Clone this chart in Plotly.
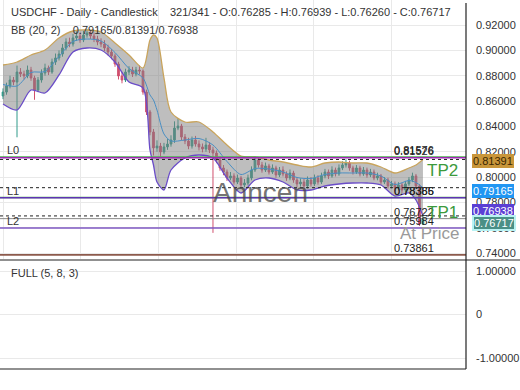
import plotly.graph_objects as go

# ---------------- data ----------------
open_ = [0.8640, 0.8671, 0.8719, 0.8766, 0.8750, 0.8829, 0.8813, 0.8798, 0.8845, 0.8782,
         0.8687, 0.8766, 0.8821, 0.8861, 0.8829, 0.8908, 0.8940, 0.8971, 0.9019, 0.9066,
         0.9050, 0.9098, 0.9113, 0.9082, 0.9121, 0.9137, 0.9113, 0.9090, 0.9066, 0.9050,
         0.9019, 0.8987, 0.8956, 0.8892, 0.8798, 0.8766, 0.8829, 0.8845, 0.8813, 0.8845,
         0.8837, 0.8671, 0.8514, 0.8356, 0.8230, 0.8245, 0.8198, 0.8238, 0.8261, 0.8293,
         0.8387, 0.8403, 0.8316, 0.8285, 0.8245, 0.8293, 0.8261, 0.8238, 0.8222, 0.8253,
         0.8214, 0.8190, 0.8135, 0.8072, 0.8040, 0.7993, 0.8009, 0.7961, 0.7993, 0.7938,
         0.7953, 0.7993, 0.8056, 0.8135, 0.8096, 0.8056, 0.8088, 0.8040, 0.8072, 0.8017,
         0.8056, 0.8025, 0.7993, 0.8032, 0.7977, 0.7946, 0.7961, 0.7930, 0.7977, 0.7946,
         0.7993, 0.7961, 0.8009, 0.8040, 0.8009, 0.8056, 0.8025, 0.8072, 0.8096, 0.8111,
         0.8072, 0.8040, 0.8072, 0.8025, 0.8056, 0.8017, 0.8040, 0.7993, 0.8009, 0.7961,
         0.7977, 0.7930, 0.7946, 0.7914, 0.7938, 0.7898, 0.7946, 0.7977, 0.8009, 0.7930,
         0.76285]
high = [0.8700, 0.8745, 0.8800, 0.8790, 0.8880, 0.8860, 0.8840, 0.8880, 0.8870, 0.8800,
        0.8790, 0.8850, 0.8895, 0.8880, 0.8935, 0.8975, 0.9000, 0.9050, 0.9095, 0.9100,
        0.9130, 0.9150, 0.9140, 0.9155, 0.9170, 0.9160, 0.9140, 0.9115, 0.9095, 0.9080,
        0.9045, 0.9010, 0.8975, 0.8910, 0.8830, 0.8855, 0.8875, 0.8870, 0.8870, 0.8880,
        0.8850, 0.8690, 0.8530, 0.8380, 0.8290, 0.8270, 0.8270, 0.8300, 0.8330, 0.8440,
        0.8466, 0.8420, 0.8340, 0.8310, 0.8320, 0.8325, 0.8290, 0.8265, 0.8310, 0.8275,
        0.8240, 0.8210, 0.8160, 0.8095, 0.8060, 0.8040, 0.8030, 0.8020, 0.8010, 0.7985,
        0.8020, 0.8085, 0.8165, 0.8150, 0.8120, 0.8115, 0.8105, 0.8100, 0.8090, 0.8080,
        0.8085, 0.8045, 0.8060, 0.8050, 0.8000, 0.7990, 0.7985, 0.8005, 0.8000, 0.8020,
        0.8015, 0.8035, 0.8065, 0.8060, 0.8085, 0.8075, 0.8100, 0.8125, 0.8140, 0.8130,
        0.8090, 0.8095, 0.8090, 0.8080, 0.8075, 0.8065, 0.8060, 0.8035, 0.8025, 0.8000,
        0.7995, 0.7970, 0.7965, 0.7960, 0.7955, 0.7970, 0.8000, 0.8035, 0.8025, 0.7945,
        0.76939]
low = [0.8615, 0.8650, 0.8700, 0.8725, 0.8314, 0.8790, 0.8770, 0.8780, 0.8760, 0.8610,
       0.8670, 0.8745, 0.8800, 0.8805, 0.8815, 0.8885, 0.8920, 0.8950, 0.9000, 0.9025,
       0.9030, 0.9075, 0.9060, 0.9065, 0.9100, 0.9090, 0.9065, 0.9040, 0.9025, 0.8995,
       0.8960, 0.8930, 0.8870, 0.8770, 0.8740, 0.8750, 0.8805, 0.8790, 0.8795, 0.8810,
       0.8650, 0.8490, 0.8330, 0.8170, 0.8200, 0.8160, 0.8180, 0.8215, 0.8240, 0.8270,
       0.8370, 0.8290, 0.8260, 0.8220, 0.8225, 0.8240, 0.8210, 0.8195, 0.8200, 0.8190,
       0.7560, 0.8110, 0.8050, 0.8015, 0.7970, 0.7975, 0.7940, 0.7945, 0.7915, 0.7920,
       0.7935, 0.7975, 0.8040, 0.8075, 0.8035, 0.8040, 0.8020, 0.8025, 0.7995, 0.8000,
       0.8005, 0.7970, 0.7975, 0.7955, 0.7920, 0.7925, 0.7905, 0.7910, 0.7925, 0.7930,
       0.7940, 0.7945, 0.7990, 0.7985, 0.7995, 0.8005, 0.8010, 0.8055, 0.8075, 0.8050,
       0.8020, 0.8025, 0.8005, 0.8010, 0.7995, 0.8000, 0.7975, 0.7975, 0.7940, 0.7945,
       0.7910, 0.7910, 0.7890, 0.7895, 0.7875, 0.7880, 0.7930, 0.7960, 0.7910, 0.7615,
       0.76260]
close = [0.8671, 0.8719, 0.8766, 0.8750, 0.8829, 0.8813, 0.8798, 0.8845, 0.8782, 0.8687,
         0.8766, 0.8821, 0.8861, 0.8829, 0.8908, 0.8940, 0.8971, 0.9019, 0.9066, 0.9050,
         0.9098, 0.9113, 0.9082, 0.9121, 0.9137, 0.9113, 0.9090, 0.9066, 0.9050, 0.9019,
         0.8987, 0.8956, 0.8892, 0.8798, 0.8766, 0.8829, 0.8845, 0.8813, 0.8845, 0.8837,
         0.8671, 0.8514, 0.8356, 0.8230, 0.8245, 0.8198, 0.8238, 0.8261, 0.8293, 0.8387,
         0.8403, 0.8316, 0.8285, 0.8245, 0.8293, 0.8261, 0.8238, 0.8222, 0.8253, 0.8214,
         0.8190, 0.8135, 0.8072, 0.8040, 0.7993, 0.8009, 0.7961, 0.7993, 0.7938, 0.7953,
         0.7993, 0.8056, 0.8135, 0.8096, 0.8056, 0.8088, 0.8040, 0.8072, 0.8017, 0.8056,
         0.8025, 0.7993, 0.8032, 0.7977, 0.7946, 0.7961, 0.7930, 0.7977, 0.7946, 0.7993,
         0.7961, 0.8009, 0.8040, 0.8009, 0.8056, 0.8025, 0.8072, 0.8096, 0.8111, 0.8072,
         0.8040, 0.8072, 0.8025, 0.8056, 0.8017, 0.8040, 0.7993, 0.8009, 0.7961, 0.7977,
         0.7930, 0.7946, 0.7914, 0.7938, 0.7898, 0.7946, 0.7977, 0.8009, 0.7930, 0.7630,
         0.76717]
bar_index = list(range(len(close)))

bb_index = [0, 4, 8, 12, 16, 20, 24, 28, 32, 36, 40, 42, 43, 44, 46, 48, 52, 56, 60, 64,
            68, 72, 76, 80, 84, 88, 92, 96, 100, 104, 108, 112, 116, 118, 120]
bb_upper = [0.88844, 0.89081, 0.89634, 0.90028, 0.90975, 0.91527, 0.91606, 0.91448, 0.90580, 0.89634,
            0.88608, 0.90817, 0.91212, 0.90975, 0.87819, 0.85136, 0.84347, 0.84347, 0.83558, 0.82532,
            0.81665, 0.81586, 0.81349, 0.81191, 0.80955, 0.80797, 0.81112, 0.81191, 0.81112, 0.81112,
            0.80797, 0.80323, 0.80718, 0.80955, 0.81391]
bb_lower = [0.85767, 0.85294, 0.86872, 0.86635, 0.88056, 0.89870, 0.90186, 0.90028, 0.89081, 0.87503,
            0.87030, 0.82138, 0.80955, 0.79613, 0.78983, 0.80560, 0.81507, 0.81744, 0.81507, 0.79929,
            0.78746, 0.79771, 0.79929, 0.79613, 0.78983, 0.78983, 0.79297, 0.79455, 0.79534, 0.79534,
            0.79376, 0.78508, 0.78746, 0.78193, 0.76938]
bb_mid = [0.87306, 0.87188, 0.88253, 0.88332, 0.89516, 0.90699, 0.90896, 0.90738, 0.89831, 0.88569,
          0.87819, 0.86478, 0.86084, 0.85294, 0.83401, 0.82848, 0.82927, 0.83046, 0.82533, 0.81231,
          0.80206, 0.80679, 0.80639, 0.80402, 0.79969, 0.79890, 0.80205, 0.80323, 0.80323, 0.80323,
          0.80087, 0.79416, 0.79732, 0.79574, 0.79165]

level_values = [0.81576, 0.81526, 0.78386, 0.78365, 0.76722, 0.75984, 0.73861]
level_labels = ["0.81576", "0.81526", "0.78386", "0.78365", "0.76722", "0.75984", "0.73861"]
level_colors = ["#4caf50", "#9c27b0", "#4caf50", "#5e35b1", "#8a8a8a", "#7e57c2", "#8d5a4c"]
bb_levels = [0.81391, 0.79165, 0.76938]

price_ticks = [0.74, 0.76, 0.78, 0.80, 0.82, 0.84, 0.86, 0.88, 0.90, 0.92]
osc_ticks = [-1, 0, 1]
osc_ticktext = ["-1.00000", "0", "1.00000"]

title_text = "USDCHF - Daily - Candlestick    321/341 - O:0.76285 - H:0.76939 - L:0.76260 - C:0.76717"
bb_text = "BB (20, 2)    0.79165/0.81391/0.76938"

# ---------------- figure ----------------
FONT = "Liberation Sans, Arial, sans-serif"
H_PLOT = 369.0

def py(pix):
    return 1 - pix / H_PLOT

fig = go.Figure()
fig.add_trace(go.Scatter(x=bb_index, y=bb_upper, mode="lines",
                         line=dict(color="#c9a45c", width=1.3, shape="spline", smoothing=0.8),
                         hoverinfo="skip"))
fig.add_trace(go.Scatter(x=bb_index, y=bb_lower, mode="lines", fill="tonexty",
                         fillcolor="rgba(125,125,125,0.5)",
                         line=dict(color="#6a4cc8", width=1.3, shape="spline", smoothing=0.8),
                         hoverinfo="skip"))
fig.add_trace(go.Scatter(x=bb_index, y=bb_mid, mode="lines",
                         line=dict(color="#4a8fc4", width=1, shape="spline", smoothing=0.8),
                         hoverinfo="skip"))
fig.add_trace(go.Candlestick(x=bar_index, open=open_, high=high, low=low, close=close,
                             increasing=dict(line=dict(color="#2f9a8a", width=1), fillcolor="#2f9a8a"),
                             decreasing=dict(line=dict(color="#d0506e", width=1), fillcolor="#d0506e"),
                             whiskerwidth=0))
# empty oscillator panel trace
fig.add_trace(go.Scatter(x=[0], y=[None], xaxis="x2", yaxis="y2", mode="lines"))

shapes = []
for v, c in zip(level_values, level_colors):
    shapes.append(dict(type="line", xref="paper", x0=0, x1=1, yref="y", y0=v, y1=v,
                       line=dict(color=c, width=1.6 if c != "#8a8a8a" else 1)))
for v in bb_levels:
    shapes.append(dict(type="line", xref="paper", x0=0, x1=1, yref="y", y0=v, y1=v,
                       line=dict(color="#222", width=1, dash="3px,3px")))
# panel borders
shapes += [
    dict(type="line", xref="paper", yref="paper", x0=1, x1=1, y0=py(260), y1=py(3),
         line=dict(color="#222", width=1.2)),
    dict(type="line", xref="paper", yref="paper", x0=0, x1=520 / 466, y0=py(260), y1=py(260),
         line=dict(color="#222", width=1.2)),
    dict(type="line", xref="paper", yref="paper", x0=1, x1=1, y0=0, y1=py(260),
         line=dict(color="#222", width=1.2)),
    dict(type="line", xref="paper", yref="paper", x0=0, x1=1, y0=0, y1=0,
         line=dict(color="#222", width=1.2)),
]

ann = []
ann.append(dict(text=title_text, xref="paper", yref="paper", x=9 / 466, y=py(12),
                xanchor="left", yanchor="middle", showarrow=False,
                font=dict(size=11, color="#333", family=FONT)))
ann.append(dict(text=bb_text, xref="paper", yref="paper", x=9 / 466, y=py(30),
                xanchor="left", yanchor="middle", showarrow=False,
                font=dict(size=11, color="#333", family=FONT)))
ann.append(dict(text="FULL (5, 8, 3)", xref="paper", yref="paper", x=9 / 466, y=py(273),
                xanchor="left", yanchor="middle", showarrow=False,
                font=dict(size=11, color="#333", family=FONT)))
for lab, v in zip(["L0", "L1", "L2"], [0.81576, 0.78386, 0.75984]):
    ann.append(dict(text=lab, xref="paper", yref="y", x=5 / 466, y=v, xanchor="left",
                    yanchor="bottom", showarrow=False, yshift=-1,
                    font=dict(size=11, color="#333", family=FONT)))
for lab, v in zip(level_labels, level_values):
    ann.append(dict(text=lab, xref="paper", yref="y", x=392 / 466, y=v, xanchor="left",
                    yanchor="bottom", showarrow=False, yshift=-1,
                    font=dict(size=11, color="#222", family=FONT)))
ann.append(dict(text="TP2", xref="paper", yref="paper", x=460 / 466, y=py(170), xanchor="right",
                yanchor="middle", showarrow=False, font=dict(size=17, color="#3c9a3c", family=FONT)))
ann.append(dict(text="TP1", xref="paper", yref="paper", x=460 / 466, y=py(212), xanchor="right",
                yanchor="middle", showarrow=False, font=dict(size=17, color="#3c9a3c", family=FONT)))
ann.append(dict(text="At Price", xref="paper", yref="paper", x=462 / 466, y=py(233), xanchor="right",
                yanchor="middle", showarrow=False, font=dict(size=17, color="#9a9a9a", family=FONT)))
ann.append(dict(text="Anncen", xref="paper", yref="paper", x=260 / 466, y=py(192), xanchor="center",
                yanchor="middle", showarrow=False,
                font=dict(size=28, color="rgba(70,70,70,0.75)", family=FONT)))

# right-axis price boxes
boxes = [(0.81391, "#c9963a", "#3a2600", -2, None),
         (0.79165, "#2196f3", "#ffffff", -3, None),
         (0.76938, "#5b3fd4", "#ffffff", 4.5, None),
         (0.76717, "#4a8f86", "#ffffff", -4, "#b8f2f2")]
for v, bg, fc, ys, bc in boxes:
    ann.append(dict(text=f"{v:.5f}", xref="paper", yref="y", x=1, y=v, xanchor="left",
                    yanchor="middle", xshift=6, yshift=ys, showarrow=False, bgcolor=bg,
                    borderpad=0, bordercolor=bc if bc else bg, borderwidth=2 if bc else 1,
                    font=dict(size=11, color=fc, family=FONT)))

fig.update_layout(
    width=520, height=390,
    margin=dict(l=0, r=54, t=0, b=21),
    paper_bgcolor="white", plot_bgcolor="white",
    showlegend=False,
    font=dict(family=FONT, size=11, color="#333"),
    xaxis=dict(domain=[0, 1], range=[-0.86, 132.3], anchor="y",
               tickvals=[0, 22.2, 44.4, 66.6, 88.8, 111.0], showticklabels=False, ticks="",
               showgrid=True, gridcolor="#e9e9e9", zeroline=False, showline=False,
               rangeslider=dict(visible=False)),
    yaxis=dict(domain=[py(259), 1], range=[0.73538, 0.93973], side="right",
               tickvals=price_ticks, tickformat=".5f", ticks="", ticklabelstandoff=9,
               showgrid=True, gridcolor="#e9e9e9", zeroline=False, showline=False,
               tickfont=dict(size=11, color="#333", family=FONT)),
    xaxis2=dict(domain=[0, 1], range=[-0.86, 132.3], anchor="y2", showticklabels=False,
                ticks="", showgrid=False, zeroline=False, showline=False),
    yaxis2=dict(domain=[0, py(261)], range=[-1.2529, 1.2299], side="right",
                tickvals=osc_ticks, ticktext=osc_ticktext, ticks="", ticklabelstandoff=9,
                showgrid=True, gridcolor="#e9e9e9", zeroline=False, showline=False,
                tickfont=dict(size=11, color="#333", family=FONT)),
    shapes=shapes,
    annotations=ann,
)

fig.write_html("out.html")
